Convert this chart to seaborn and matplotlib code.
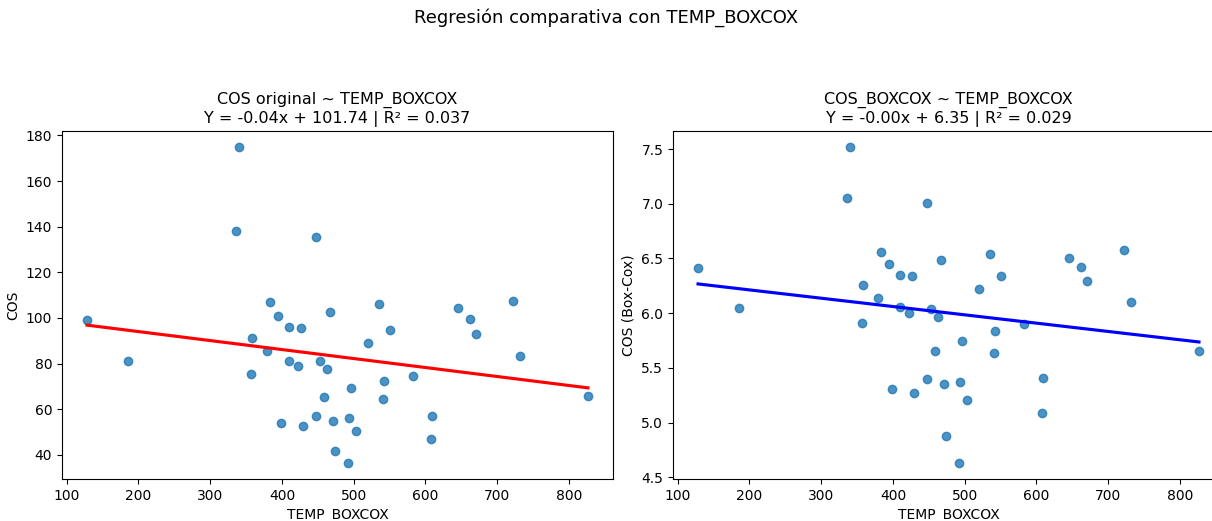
import matplotlib
matplotlib.use("Agg")
import matplotlib.pyplot as plt
import seaborn as sns
import pandas as pd

# Data
temp_boxcox = [128.3, 186.0, 339.9, 336.6, 447.3, 383.1, 394.3, 410.1, 426.4, 467.3,
               358.5, 378.5, 410.1, 422.7, 452.4, 463.0, 357.1, 496.5, 458.4, 447.3,
               470.5, 492.9, 398.9, 430.0, 503.5, 474.2, 491.5, 536.0, 550.5, 519.8,
               542.1, 541.2, 583.0, 608.6, 607.7, 645.8, 661.6, 670.5, 722.0, 731.8,
               826.6]
cos = [99.2, 81.3, 175.0, 138.0, 135.4, 106.8, 100.8, 95.8, 95.5, 102.8,
       91.0, 85.6, 81.3, 79.0, 81.0, 77.8, 75.2, 69.2, 65.1, 56.8,
       55.0, 56.0, 53.7, 52.5, 50.6, 41.8, 36.3, 106.0, 94.9, 89.2,
       72.5, 64.6, 74.7, 56.8, 47.1, 104.3, 99.7, 92.9, 107.6, 83.5,
       65.7]
cos_boxcox = [6.41, 6.045, 7.52, 7.048, 7.01, 6.557, 6.448, 6.348, 6.339, 6.485,
              6.257, 6.139, 6.061, 6.003, 6.036, 5.967, 5.912, 5.748, 5.657, 5.40,
              5.355, 5.373, 5.312, 5.273, 5.21, 4.882, 4.63, 6.539, 6.339, 6.218,
              5.839, 5.636, 5.90, 5.409, 5.09, 6.503, 6.421, 6.294, 6.575, 6.103,
              5.655]

titles = ["COS original ~ TEMP_BOXCOX\nY = -0.04x + 101.74 | R\u00b2 = 0.037",
          "COS_BOXCOX ~ TEMP_BOXCOX\nY = -0.00x + 6.35 | R\u00b2 = 0.029"]

df = pd.DataFrame({"TEMP_BOXCOX": temp_boxcox, "COS": cos, "COS_BOXCOX": cos_boxcox})

fig = plt.figure(figsize=(12.12, 5.21), dpi=100)
ax1 = fig.add_axes([62 / 1212, 42 / 521, 551 / 1212, 348 / 521])
ax2 = fig.add_axes([673 / 1212, 42 / 521, 551 / 1212, 348 / 521])

sns.regplot(data=df, x="TEMP_BOXCOX", y="COS", ax=ax1, ci=None,
            scatter_kws={"alpha": 0.8}, line_kws={"color": "red"})
ax1.set_ylabel("COS")
ax1.set_title(titles[0], fontsize=11.5)

sns.regplot(data=df, x="TEMP_BOXCOX", y="COS_BOXCOX", ax=ax2, ci=None,
            scatter_kws={"alpha": 0.8}, line_kws={"color": "blue"})
ax2.set_ylabel("COS (Box-Cox)")
ax2.set_title(titles[1], fontsize=11.5)

fig.suptitle("Regresi\u00f3n comparativa con TEMP_BOXCOX", fontsize=13, y=0.985)

fig.savefig("out.png", dpi=100)
